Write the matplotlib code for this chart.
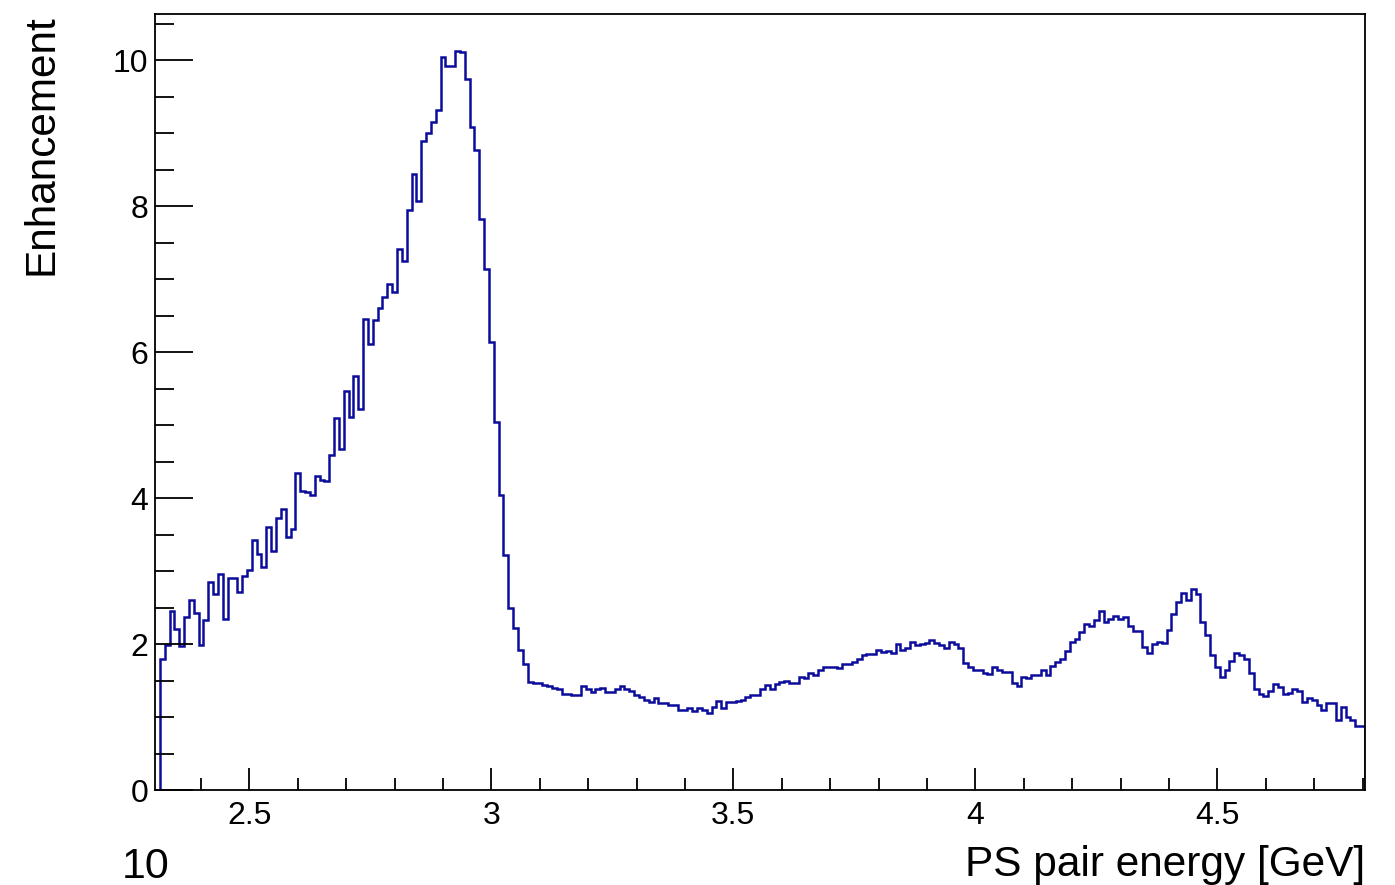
import numpy as np
import matplotlib

matplotlib.use("Agg")
import matplotlib.pyplot as plt
from matplotlib.ticker import MultipleLocator

# Histogram binning: 250 bins of 10 MeV starting at 2.305 GeV
x_lo = 2.305
bin_width = 0.01

enhancement = [
    0.00, 1.80, 1.99, 2.46, 2.20, 1.98, 2.37, 2.60, 2.42, 1.99,
    2.33, 2.85, 2.68, 2.96, 2.35, 2.90, 2.90, 2.72, 2.93, 3.02,
    3.42, 3.24, 3.06, 3.61, 3.27, 3.73, 3.85, 3.47, 3.58, 4.35,
    4.10, 4.09, 4.05, 4.30, 4.25, 4.24, 4.59, 5.10, 4.67, 5.47,
    5.11, 5.68, 5.22, 6.45, 6.12, 6.44, 6.61, 6.76, 6.93, 6.83,
    7.41, 7.25, 7.95, 8.45, 8.08, 8.89, 9.01, 9.15, 9.32, 10.05,
    9.92, 9.92, 10.13, 10.11, 9.75, 9.09, 8.77, 7.82, 7.14, 6.14,
    5.05, 4.04, 3.22, 2.49, 2.22, 1.92, 1.73, 1.48, 1.47, 1.46,
    1.44, 1.42, 1.40, 1.39, 1.32, 1.32, 1.30, 1.30, 1.42, 1.38,
    1.35, 1.39, 1.40, 1.35, 1.35, 1.38, 1.42, 1.38, 1.36, 1.30,
    1.28, 1.24, 1.20, 1.26, 1.19, 1.19, 1.17, 1.16, 1.10, 1.10,
    1.12, 1.08, 1.12, 1.10, 1.05, 1.14, 1.22, 1.12, 1.21, 1.21,
    1.22, 1.24, 1.28, 1.30, 1.30, 1.39, 1.44, 1.38, 1.45, 1.48,
    1.49, 1.47, 1.47, 1.55, 1.53, 1.61, 1.57, 1.64, 1.69, 1.69,
    1.69, 1.67, 1.73, 1.73, 1.76, 1.79, 1.85, 1.86, 1.87, 1.92,
    1.89, 1.91, 1.88, 2.00, 1.92, 1.95, 2.03, 1.99, 2.00, 2.02,
    2.05, 2.01, 1.99, 1.95, 2.03, 2.00, 1.94, 1.74, 1.69, 1.64,
    1.65, 1.61, 1.59, 1.68, 1.64, 1.62, 1.62, 1.47, 1.43, 1.55,
    1.53, 1.58, 1.58, 1.64, 1.58, 1.70, 1.75, 1.79, 1.91, 2.03,
    2.07, 2.17, 2.28, 2.25, 2.33, 2.46, 2.30, 2.34, 2.38, 2.34,
    2.37, 2.25, 2.18, 2.18, 1.96, 1.88, 2.00, 2.03, 2.02, 2.19,
    2.41, 2.58, 2.70, 2.60, 2.76, 2.68, 2.30, 2.12, 1.85, 1.68,
    1.55, 1.65, 1.77, 1.88, 1.85, 1.79, 1.60, 1.39, 1.32, 1.29,
    1.36, 1.45, 1.41, 1.31, 1.33, 1.38, 1.36, 1.20, 1.26, 1.23,
    1.16, 1.10, 1.19, 1.19, 0.96, 1.14, 1.00, 0.96, 0.88, 0.88,
]

x_major = [2.5, 3.0, 3.5, 4.0, 4.5]
x_labels = ["2.5", "3", "3.5", "4", "4.5"]
y_major = [0, 2, 4, 6, 8, 10]
y_labels = ["0", "2", "4", "6", "8", "10"]

plt.rcParams["font.family"] = ["Liberation Sans", "DejaVu Sans"]

values = np.array(enhancement)
edges = x_lo + bin_width * np.arange(len(values) + 1)

fig = plt.figure(figsize=(13.95, 8.85), dpi=100)
ax = fig.add_axes([155 / 1395, 1 - 790 / 885, 1210 / 1395, 776 / 885])

ax.stairs(values, edges, color="#0c0c9c", linewidth=1.8)

ax.set_xlim(edges[0], edges[-1])
ax.set_ylim(0, 1.05 * values.max())

ax.set_xticks(x_major, x_labels)
ax.set_yticks(y_major, y_labels)
ax.xaxis.set_minor_locator(MultipleLocator(0.1))
ax.yaxis.set_minor_locator(MultipleLocator(0.5))

ax.tick_params(axis="both", which="both", direction="in", width=1.3,
               labelsize=23, top=False, right=False, color="black")
ax.tick_params(axis="x", which="major", length=16, pad=8)
ax.tick_params(axis="x", which="minor", length=8.5)
ax.tick_params(axis="y", which="major", length=27, pad=5)
ax.tick_params(axis="y", which="minor", length=13.5)
for spine in ax.spines.values():
    spine.set_linewidth(1.3)

fig.text(1365 / 1395, 1 - 876 / 885, "PS pair energy [GeV]", fontsize=30.5,
         ha="right", va="baseline")
fig.text(42 / 1395, 1 - 14 / 885, "Enhancement", fontsize=30.5,
         rotation=90, ha="center", va="top")
fig.text(146 / 1395, 1 - 878 / 885, "10", fontsize=31, ha="center",
         va="baseline")

fig.savefig("out.png", dpi=100)
plt.close(fig)
